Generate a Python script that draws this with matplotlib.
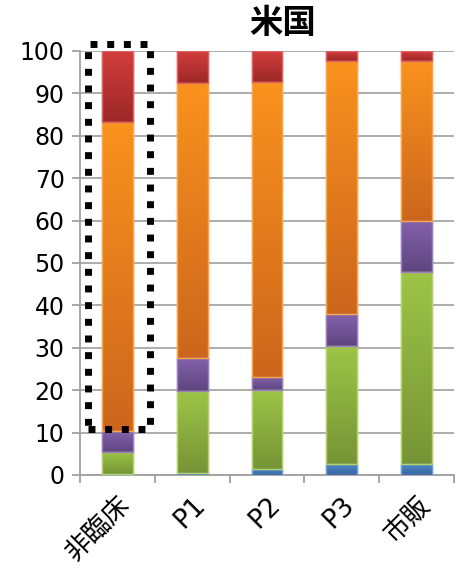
import matplotlib.pyplot as plt
import matplotlib.colors as mcolors
import numpy as np

plt.rcParams['font.family'] = ['DejaVu Sans', 'Noto Sans CJK JP']

categories = ['非臨床', 'P1', 'P2', 'P3', '市販']
blue = [0.3, 0.5, 1.3, 2.5, 2.5]
green = [5.2, 19.3, 18.7, 28.0, 45.3]
purple = [4.9, 7.9, 3.0, 7.4, 12.1]
orange = [72.9, 64.8, 69.8, 59.8, 37.8]
red = [16.7, 7.5, 7.2, 2.3, 2.3]

# 上が明るく下が暗いグラデーション（上色, 下色, 枠線色）
series = [
    (blue, '#4f86c6', '#3766a0', '#6f9fd6'),
    (green, '#9dc547', '#769436', '#b2d46a'),
    (purple, '#8462aa', '#5e4580', '#9c80bf'),
    (orange, '#f9921e', '#cd661c', '#fba54a'),
    (red, '#d33d3d', '#9c2828', '#e06060'),
]

fig = plt.figure(figsize=(4.68, 5.76), dpi=100)
ax = fig.add_axes([80 / 468, 1 - 475 / 576, 374 / 468, 424 / 576])

x = np.arange(len(categories))
bottom = np.zeros(len(categories))
for vals, c_top, c_bot, c_edge in series:
    bars = ax.bar(x, vals, width=0.41, bottom=bottom, color=c_bot,
                  edgecolor=c_edge, linewidth=1.0, zorder=3)
    cmap = mcolors.LinearSegmentedColormap.from_list('g', [c_bot, c_top])
    grad = np.linspace(0, 1, 64).reshape(-1, 1)
    for r in bars:
        x0, y0 = r.get_x(), r.get_y()
        w, h = r.get_width(), r.get_height()
        if h <= 0:
            continue
        im = ax.imshow(grad, cmap=cmap, origin='lower', aspect='auto',
                       extent=(x0, x0 + w, y0, y0 + h), zorder=3.5,
                       interpolation='bicubic')
        im.set_clip_path(r)
        # 枠線をグラデーションの上にもう一度描く
        ax.add_patch(plt.Rectangle((x0, y0), w, h, fill=False,
                                   edgecolor=c_edge, linewidth=1.0, zorder=4))
    bottom += np.array(vals)

ax.set_xlim(-0.5, len(categories) - 0.5)
ax.set_ylim(0, 100)
ax.set_yticks(np.arange(0, 101, 10))
ax.set_xticks(np.arange(-0.5, len(categories), 1.0), minor=False)
ax.set_xticklabels([])
ax.set_xticks(x, minor=True)
ax.set_xticklabels(categories, minor=True, rotation=45, ha='right',
                   va='top', rotation_mode='anchor', fontsize=19)
ax.tick_params(axis='x', which='minor', length=0, pad=12)
ax.tick_params(axis='x', which='major', length=6, color='#a0a0a0', width=1.3)
ax.tick_params(axis='y', length=6, color='#a0a0a0', width=1.3,
               labelsize=17, pad=5)

ax.yaxis.grid(True, color='#a6a6a6', linewidth=1.3, zorder=0)
ax.set_axisbelow(True)
for s in ['top', 'right']:
    ax.spines[s].set_visible(False)
for s in ['left', 'bottom']:
    ax.spines[s].set_color('#a0a0a0')
    ax.spines[s].set_linewidth(1.3)

# 非臨床を囲む点線の枠
box = plt.Rectangle((-0.39, 10.8), 0.82, 90.9, fill=False, edgecolor='black',
                    linewidth=5, linestyle=(0, (1, 1.4)), zorder=6,
                    clip_on=False)
ax.add_patch(box)

fig.text(283 / 468, 1 - 23 / 576, '米国', ha='center', va='center',
         fontsize=24, fontweight='bold', family='Noto Sans CJK JP')

fig.savefig('out.png', dpi=100)
